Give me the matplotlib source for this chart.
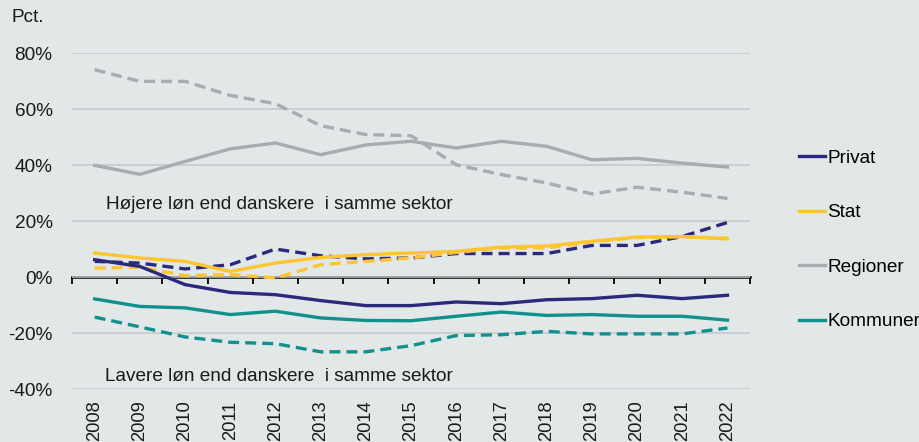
import numpy as np
from matplotlib import pyplot as plt

plt.rcParams.update({'font.size': 13.7, 'font.family': ['Liberation Sans', 'DejaVu Sans']})

years = [str(y) for y in range(2008, 2023)]

# solid lines (shown in legend)
privat = [6.3, 3.9, -2.6, -5.4, -6.2, -8.3, -10.1, -10.1, -8.8, -9.4, -8.0, -7.6, -6.4, -7.6, -6.4]
stat = [8.7, 6.9, 5.7, 2.1, 5.1, 7.1, 8.1, 8.7, 9.3, 10.8, 11.2, 12.9, 14.4, 14.6, 13.7]
regioner = [40.0, 36.8, 41.4, 45.9, 48.0, 43.8, 47.3, 48.6, 46.2, 48.6, 46.8, 42.0, 42.5, 40.8, 39.4]
kommuner = [-7.7, -10.4, -10.9, -13.3, -12.1, -14.5, -15.4, -15.5, -13.9, -12.4, -13.6, -13.3, -13.9, -13.9, -15.3]

# dashed lines
privat_d = [5.7, 5.1, 3.0, 4.5, 10.1, 7.7, 6.6, 6.9, 8.5, 8.5, 8.5, 11.4, 11.4, 14.6, 19.6]
stat_d = [3.3, 3.6, 0.6, 1.0, -0.2, 4.5, 5.7, 6.9, 8.9, 10.5, 10.5, 12.7, 14.2, 14.5, 14.0]
regioner_d = [74.2, 70.0, 70.0, 65.0, 62.0, 54.2, 51.0, 50.6, 40.2, 36.7, 33.7, 29.8, 32.2, 30.4, 28.2]
kommuner_d = [-14.2, -17.7, -21.3, -23.2, -23.7, -26.6, -26.6, -24.4, -20.8, -20.5, -19.3, -20.2, -20.2, -20.2, -18.1]

names = ['Privat', 'Stat', 'Regioner', 'Kommuner']
colors = ['#2b2a7a', '#fdc530', '#a8abb0', '#12918c']
solid = [privat, stat, regioner, kommuner]
dashed = [privat_d, stat_d, regioner_d, kommuner_d]

bg = '#e2e7e8'
txt = '#1a1a1a'
fig = plt.figure(figsize=(9.2, 4.42), dpi=100, facecolor=bg)
ax = fig.add_axes([0.0783, 0.1192, 0.737, 0.760], facecolor=bg)

x = np.arange(len(years))
ax.grid(axis='y', color='#c3c7c9', linewidth=1.1)
ax.set_axisbelow(True)

order = [2, 3, 0, 1]
for i in order:
    ax.plot(x, dashed[i], color=colors[i], linewidth=2.4, dashes=(3.3, 1.8))
handles = {}
for i in order:
    h, = ax.plot(x, solid[i], color=colors[i], linewidth=2.4, label=names[i])
    handles[i] = h

ax.set_xlim(-0.5, len(years) - 0.5)
ax.set_ylim(-40, 80)
yt = [-40, -20, 0, 20, 40, 60, 80]
ax.set_yticks(yt)
ax.set_yticklabels([f'{v}%' for v in yt])
ax.set_xticks(x)
ax.set_xticklabels(years, rotation=90, fontsize=13.2)
ax.tick_params(axis='both', length=0, colors=txt)
ax.tick_params(axis='y', labelsize=13.7, pad=14)
ax.tick_params(axis='x', pad=8)
for s in ax.spines.values():
    s.set_visible(False)

# zero axis with category boundary ticks
zero = ax.secondary_xaxis(1 / 3)
zero.set_xticks(np.arange(len(years) + 1) - 0.5)
zero.set_xticklabels([])
zero.tick_params(axis='x', direction='out', length=5, width=1.3, color='black')
zero.spines['bottom'].set_linewidth(1.8)
zero.spines['bottom'].set_color('black')
zero.xaxis.set_ticks_position('bottom')

ax.text(0.25, 26, 'Højere løn end danskere  i samme sektor', va='center', color=txt)
ax.text(0.23, -35.5, 'Lavere løn end danskere  i samme sektor', va='center', color=txt)
fig.text(12 / 920, 1 - 18 / 442, 'Pct.', va='center', color=txt)

fig.legend(handles=[handles[i] for i in range(4)], labels=names, loc='center left',
           bbox_to_anchor=(789 / 920, 1 - 240 / 442),
           frameon=False, handlelength=1.4, handletextpad=0.1, labelspacing=1.95, borderpad=0)

fig.savefig('out.png', dpi=100, facecolor=bg)
